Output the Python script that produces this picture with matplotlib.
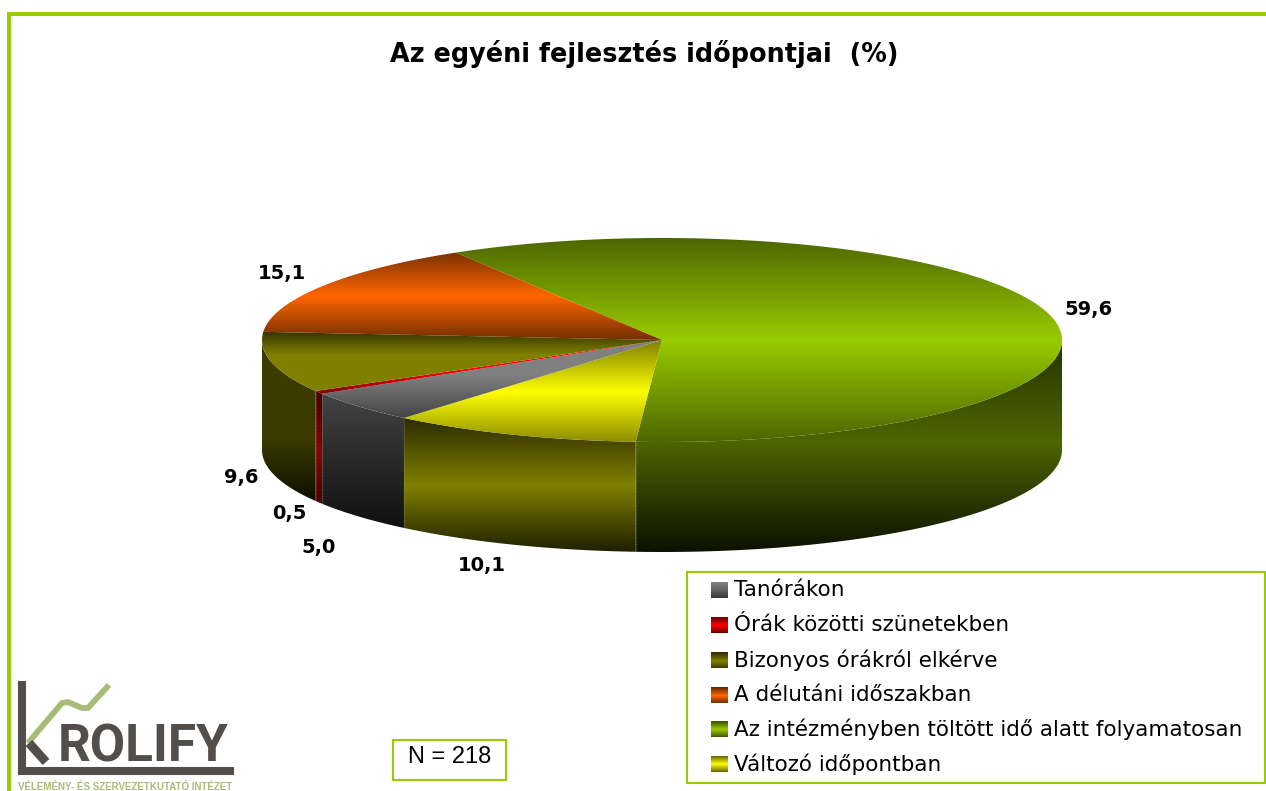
import numpy as np
import matplotlib
matplotlib.use("Agg")
import matplotlib.pyplot as plt
from matplotlib.colors import to_rgb
from matplotlib.patches import Polygon, Rectangle

# ---- data -------------------------------------------------------------
title = "Az egyéni fejlesztés időpontjai  (%)"
legend_labels = ["Tanórákon", "Órák közötti szünetekben", "Bizonyos órákról elkérve",
                 "A délutáni időszakban", "Az intézményben töltött idő alatt folyamatosan",
                 "Változó időpontban"]
legend_values = [5.0, 0.5, 9.6, 15.1, 59.6, 10.1]
value_labels = ["5,0", "0,5", "9,6", "15,1", "59,6", "10,1"]
n_label = "N = 218"
bright = ["#808080", "#ff0000", "#808000", "#ff6600", "#99cc00", "#ffff00"]

# clockwise drawing order starting from the green slice
order = [4, 5, 0, 1, 2, 3]
start_angle = 121.0

# ---- figure -----------------------------------------------------------
fig = plt.figure(figsize=(12.66, 7.91), dpi=100)
ax = fig.add_axes([0, 0, 1, 1])
ax.set_xlim(0, 1266)
ax.set_ylim(791, 0)
ax.axis("off")

cx, cy, rx, ry, depth = 662.0, 340.0, 400.0, 102.0, 110.0


def shade(color, f):
    return tuple(np.array(to_rgb(color)) * f)


def gradient(ys, cols):
    rows = np.arange(0, 791) + 0.5
    cols = np.array([to_rgb(c) for c in cols])
    return np.stack([np.interp(rows, ys, cols[:, k]) for k in range(3)], axis=-1)[:, None, :]


def fill(poly, ys, cols, z=2):
    im = ax.imshow(gradient(ys, cols), extent=(0, 1266, 791, 0), aspect="auto",
                   zorder=z, interpolation="bilinear")
    p = Polygon(poly, closed=True, fc="none", ec="none")
    ax.add_patch(p)
    im.set_clip_path(p)


# per-slice vertical shading: (y stops, brightness factors)
top_shading = {
    0: ([345, 375, 418], [1.0, 1.0, 0.53]),
    1: ([345, 370, 392], [1.0, 1.0, 0.55]),
    2: ([332, 355, 392], [0.42, 1.0, 1.0]),
    3: ([250, 296, 340], [0.45, 1.0, 0.45]),
    4: ([238, 340, 442], [0.5, 1.0, 0.5]),
    5: ([340, 392, 442], [0.5, 1.0, 0.55]),
}
wall_shading = {
    0: ([392, 530], [0.53, 0.12]),
    1: ([392, 450, 503], [0.28, 0.55, 0.28]),
    2: ([340, 440, 500], [0.48, 0.45, 0.12]),
    3: ([340, 400], [0.3, 0.3]),
    4: ([340, 442, 552], [0.25, 0.5, 0.08]),
    5: ([418, 485, 552], [0.17, 0.5, 0.12]),
}

total = sum(legend_values)
sweep = [legend_values[i] / total * 360 for i in order]
edges = start_angle - np.concatenate([[0], np.cumsum(sweep)])

for k, i in enumerate(order):
    a0, a1 = edges[k], edges[k + 1]
    t = np.radians(np.linspace(a0, a1, 400))
    x = cx + rx * np.cos(t)
    y = cy - ry * np.sin(t)
    c = bright[i]
    mask = np.sin(t) <= 0
    if mask.sum() > 1:
        wx, wy = x[mask], y[mask]
        wall = np.r_[np.c_[wx, wy], np.c_[wx[::-1], wy[::-1] + depth]]
        ys, fs = wall_shading[i]
        fill(wall, ys, [shade(c, f) for f in fs], z=2)
        if wx[0] > cx - rx + 1 and wx[0] < cx + rx - 1:
            ax.plot([wx[0], wx[0]], [wy[0], wy[0] + depth], color="#b0b0b0", lw=0.5,
                    alpha=0.6, ls=(0, (1, 1)), zorder=2.5)
    poly = np.r_[[[cx, cy]], np.c_[x, y]]
    ys, fs = top_shading[i]
    fill(poly, ys, [shade(c, f) for f in fs], z=3)

# ---- data labels ------------------------------------------------------
label_pos = {0: (319, 548), 1: (289, 514), 2: (241, 478), 3: (282, 274),
             4: (1089, 309), 5: (482, 566)}
for i, (lx, ly) in label_pos.items():
    ax.text(lx, ly, value_labels[i], fontsize=14, fontweight="bold", color="black",
            ha="center", va="center", family="DejaVu Sans", zorder=6)

ax.text(644, 54, title, fontsize=18.4, fontweight="bold", ha="center", va="center",
        family="DejaVu Sans", zorder=6)

# ---- frame ------------------------------------------------------------
frame = "#99cc00"
ax.add_patch(Rectangle((7, 12), 1259, 4, fc=frame, ec="none", zorder=1))
ax.add_patch(Rectangle((7, 12), 4, 779, fc=frame, ec="none", zorder=1))

# ---- legend -----------------------------------------------------------
ax.add_patch(Rectangle((686.5, 571.5), 578, 211, fc="white", ec=frame, lw=1.5, zorder=4))
for j, lab in enumerate(legend_labels):
    yy = 590.5 + j * 34.7
    c = bright[j]
    sw_cols = [shade(c, 0.4), c, shade(c, 0.4)] if j else ["#808080", "#606060", "#333333"]
    ax.imshow(gradient([yy - 8, yy, yy + 8], sw_cols)[int(yy - 8):int(yy + 8)],
              extent=(711, 728, yy + 8, yy - 8), aspect="auto", zorder=5)
    ax.text(733.5, yy, lab, fontsize=15.45, family="DejaVu Sans", ha="left", va="center",
            zorder=6, color="black")

# ---- N box ------------------------------------------------------------
ax.add_patch(Rectangle((393, 740), 113, 40, fc="white", ec=frame, lw=1.5, zorder=4))
ax.text(449.5, 757, n_label, fontsize=17, family="Liberation Sans", ha="center", va="center", zorder=6)

# ---- logo -------------------------------------------------------------
dark = "#524e4c"
lgreen = "#a9bb78"
ax.plot([22, 22, 234], [681, 771, 771], color=dark, lw=5.8, solid_joinstyle="miter",
        solid_capstyle="butt", zorder=4)
ax.plot([28, 62, 68, 82, 88, 109], [743, 703, 702, 708, 708, 685], color=lgreen, lw=4.2,
        solid_capstyle="butt", zorder=4)
ax.plot([29, 46], [743, 762], color=dark, lw=6.5, solid_capstyle="butt", zorder=5)
ax.text(143, 762, "ROLIFY", fontsize=37, fontweight="bold", family="Roboto",
        color=dark, ha="center", va="baseline", zorder=5)
ax.text(125.5, 786.5, "VÉLEMÉNY- ÉS SZERVEZETKUTATÓ INTÉZET", fontsize=7.0, fontweight="bold",
        family="Liberation Sans", color=lgreen, ha="center", va="center", zorder=5)

ax.set_xlim(0, 1266)
ax.set_ylim(791, 0)
fig.savefig("out.png", dpi=100)
